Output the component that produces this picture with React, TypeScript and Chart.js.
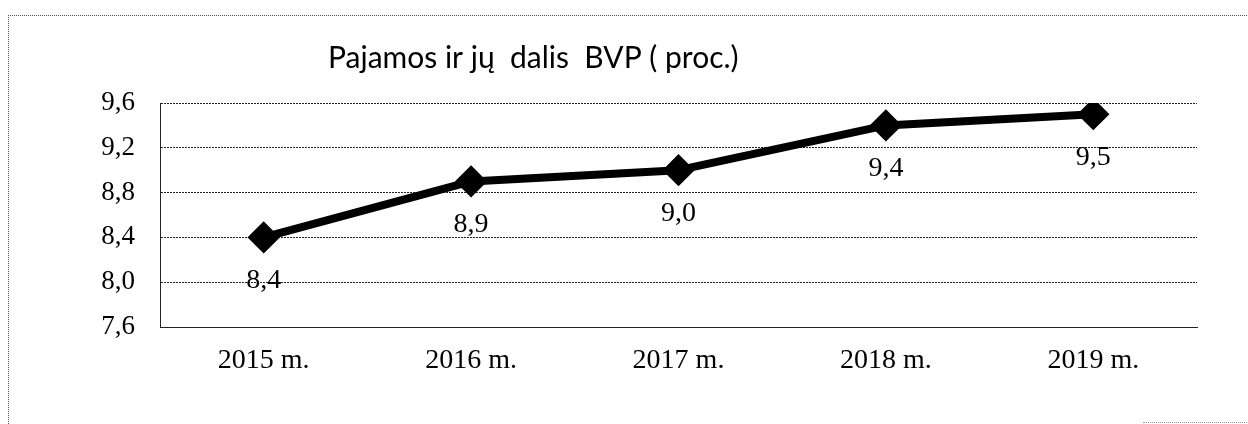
import React, { useEffect, useRef } from "react";
import { Chart, registerables } from "chart.js";

Chart.register(...registerables);

const categories = ["2015 m.", "2016 m.", "2017 m.", "2018 m.", "2019 m."];
const values = [8.4, 8.9, 9.0, 9.4, 9.5];
const valueLabels = ["8,4", "8,9", "9,0", "9,4", "9,5"];
const yMin = 7.6;
const yMax = 9.6;
const yStep = 0.4;
const titleText = "Pajamos ir jų  dalis  BVP ( proc.)";

const SERIF = "'Liberation Serif', 'Times New Roman', serif";

const titlePlugin = {
  id: "customTitle",
  afterDraw(chart: any) {
    const ctx = chart.ctx;
    ctx.save();
    ctx.font = "30px Lato, 'Noto Sans', sans-serif";
    ctx.fillStyle = "#000";
    ctx.textAlign = "left";
    ctx.textBaseline = "alphabetic";
    ctx.fillText(titleText, 328, 68);
    ctx.restore();
  },
};

const labelPlugin = {
  id: "valueLabels",
  afterDatasetsDraw(chart: any) {
    const ctx = chart.ctx;
    const meta = chart.getDatasetMeta(0);
    ctx.save();
    ctx.font = "28px " + SERIF;
    ctx.fillStyle = "#000";
    ctx.textAlign = "center";
    ctx.textBaseline = "middle";
    meta.data.forEach((pt: any, i: number) => {
      ctx.fillText(valueLabels[i], pt.x, pt.y + 43);
    });
    ctx.restore();
  },
};

export default function App() {
  const ref = useRef<HTMLCanvasElement>(null);
  useEffect(() => {
    if (!ref.current) return;
    const chart = new Chart(ref.current, {
      type: "line",
      data: {
        labels: categories,
        datasets: [
          {
            data: values,
            borderColor: "#000",
            borderWidth: 8,
            borderJoinStyle: "round",
            pointStyle: "rectRot",
            pointRadius: 14,
            pointBackgroundColor: "#000",
            pointBorderColor: "#000",
            pointBorderWidth: 3,
            tension: 0,
            fill: false,
          },
          {
            data: values,
            showLine: false,
            pointStyle: "rectRot",
            pointRadius: 3,
            pointBackgroundColor: "#444",
            pointBorderColor: "#9a9a9a",
            pointBorderWidth: 1,
          },
        ],
      },
      options: {
        responsive: false,
        animation: false,
        layout: { padding: { left: 0, right: 51, top: 103, bottom: 0 } },
        plugins: {
          legend: { display: false },
          title: { display: false },
          tooltip: { enabled: false },
        },
        scales: {
          x: {
            offset: true,
            grid: { display: false, drawTicks: false },
            border: { display: true, color: "#222", width: 1, dash: [2, 1] },
            ticks: {
              font: { family: SERIF, size: 28 },
              color: "#000",
              padding: 17,
              maxRotation: 0,
            },
            afterFit(scale: any) {
              scale.height = 97;
            },
          },
          y: {
            min: yMin,
            max: yMax,
            grid: { color: "#222", lineWidth: 1, drawTicks: false },
            border: { display: true, color: "#222", width: 1, dash: [2, 1] },
            ticks: {
              stepSize: yStep,
              font: { family: SERIF, size: 27 },
              color: "#000",
              padding: 25,
              callback: (v: any) => Number(v).toFixed(1).replace(".", ","),
            },
            afterFit(scale: any) {
              scale.width = 160;
            },
          },
        },
      },
      plugins: [titlePlugin, labelPlugin],
    } as any);
    return () => chart.destroy();
  }, []);

  return (
    <div style={{ position: "fixed", left: 0, top: 0, width: 1248, height: 424, background: "#fff", overflow: "hidden" }}>
      <div
        style={{
          position: "absolute",
          left: 8,
          top: 15,
          width: 1300,
          height: 500,
          borderLeft: "1px dotted #555",
          borderTop: "1px dotted #555",
        }}
      />
      <div
        style={{
          position: "absolute",
          left: 1143,
          top: 422,
          width: 120,
          height: 5,
          borderTop: "1px dotted #999",
        }}
      />
      <canvas ref={ref} width={1248} height={424} style={{ position: "absolute", left: 0, top: 0, display: "block" }} />
    </div>
  );
}
